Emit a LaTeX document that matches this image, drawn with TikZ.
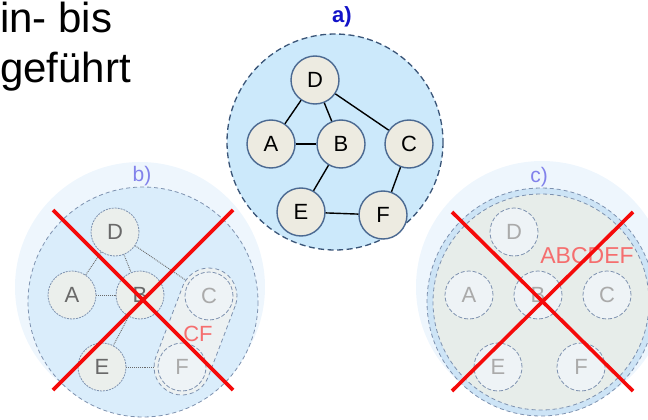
\documentclass[tikz,border=0pt]{standalone}
\usepackage{fontspec}
\setmainfont{Liberation Sans}
\usetikzlibrary{calc}
\pgfdeclarelayer{back}
\pgfdeclarelayer{mid}
\pgfsetlayers{back,mid,main}
\definecolor{aFill}{RGB}{204,233,251}
\definecolor{aBorder}{RGB}{58,85,120}
\definecolor{nFill}{RGB}{237,235,225}
\definecolor{nBorder}{RGB}{75,105,145}
\definecolor{aLabel}{RGB}{18,18,200}
\definecolor{fLabel}{RGB}{130,130,235}
\definecolor{haloFill}{RGB}{238,246,253}
\definecolor{bInner}{RGB}{218,237,251}
\definecolor{fBorder}{RGB}{125,145,175}
\definecolor{fNode}{RGB}{235,239,236}
\definecolor{fNodeLight}{RGB}{238,243,246}
\definecolor{fText}{RGB}{105,105,105}
\definecolor{fTextLight}{RGB}{170,170,170}
\definecolor{fEdge}{RGB}{105,105,105}
\definecolor{pillFill}{RGB}{236,241,242}
\definecolor{cInner}{RGB}{231,237,234}
\definecolor{cRing}{RGB}{205,228,246}
\definecolor{xRed}{RGB}{245,10,10}
\definecolor{fRed}{RGB}{245,110,110}
\begin{document}
\begin{tikzpicture}[x=1pt,y=-1pt,
  anode/.style={circle, draw=nBorder, line width=1.4pt, fill=nFill, minimum size=48pt, inner sep=0pt, font=\fontsize{22}{22}\selectfont},
  aedge/.style={line width=1.4pt, black},
  fnode/.style={circle, draw=fBorder, dash pattern=on 2pt off 1pt, line width=0.8pt, fill=fNode, minimum size=48pt, inner sep=0pt, font=\fontsize{22}{22}\selectfont, text=fText},
  fnodeL/.style={fnode, fill=fNodeLight, text=fTextLight, dash pattern=on 4pt off 2pt},
  fedge/.style={line width=0.9pt, fEdge, densely dotted},
  fdash/.style={draw=fBorder, line width=0.8pt, dash pattern=on 4pt off 3pt},
  redx/.style={xRed, line width=3.6pt},
  flabel/.style={text=fLabel, font=\fontsize{21}{21}\selectfont, inner sep=0pt},
  heading/.style={anchor=base west, inner sep=0pt, font=\fontsize{42}{48}\selectfont}
]
\useasboundingbox (0,0) rectangle (648,420);

% heading
\node[heading] (t1) at (0,33) {in- bis};
\node[heading] (t2) at (0,82) {geführt};

% ---------- b) ----------
\begin{pgfonlayer}{back}
\fill[haloFill] (140,287) circle[radius=125];
\filldraw[fill=bInner, fdash] (143,302) circle[radius=115];
\end{pgfonlayer}
\node[flabel] (bl) at (142,176) {b)};
\node[fnode] (bD) at (115,232) {D};
\node[fnode] (bA) at (72,295) {A};
\node[fnode] (bB) at (140,295) {B};
\node[fnode] (bE) at (102,367) {E};
\node[fnodeL] (bC) at (209,296) {C};
\node[fnodeL] (bF) at (182,367) {F};
\begin{pgfonlayer}{back}
\draw[fedge] (bD) -- (bA);
\draw[fedge] (bD) -- (bB);
\draw[fedge] (bD) -- (bC);
\draw[fedge] (bA) -- (bB);
\draw[fedge] (bB) -- (bE);
\draw[fedge] (bE) -- (bF);
\end{pgfonlayer}
\begin{pgfonlayer}{mid}
\begin{scope}[shift={($(bC)!0.5!(bF)$)}, rotate=-110.8]
\filldraw[fill=pillFill, fdash] (-38,-28) -- (38,-28) arc[start angle=-90, end angle=90, radius=28] -- (-38,28) arc[start angle=90, end angle=270, radius=28] -- cycle;
\end{scope}
\end{pgfonlayer}
\node[text=fRed, font=\fontsize{22}{22}\selectfont, inner sep=0pt] (bCF) at (198,334) {CF};
\coordinate (bx1) at (53,210);
\coordinate (bx2) at (233,390);
\coordinate (bx3) at (233,210);
\coordinate (bx4) at (53,390);
\draw[redx] (bx1) -- (bx2);
\draw[redx] (bx3) -- (bx4);

% ---------- c) ----------
\begin{pgfonlayer}{back}
\fill[haloFill] (542,287) circle[radius=126];
\filldraw[fill=cRing, fdash] (541,302) circle[radius=114];
\filldraw[fill=cInner, fdash] (541,302) circle[radius=108];
\end{pgfonlayer}
\node[flabel] (cl) at (539,177) {c)};
\node[fnodeL] (cD) at (514,232) {D};
\node[fnodeL] (cA) at (469,295) {A};
\node[fnodeL] (cB) at (538,295) {B};
\node[fnodeL] (cC) at (607,295) {C};
\node[fnodeL] (cE) at (498,367) {E};
\node[fnodeL] (cF) at (581,367) {F};
\node[text=fRed, font=\fontsize{23}{23}\selectfont, inner sep=0pt] (cABC) at (587,256) {ABCDEF};
\coordinate (cx1) at (452,212);
\coordinate (cx2) at (633,391);
\coordinate (cx3) at (633,212);
\coordinate (cx4) at (452,391);
\draw[redx] (cx1) -- (cx2);
\draw[redx] (cx3) -- (cx4);

% ---------- a) ----------
\filldraw[fill=aFill, draw=aBorder, line width=1.3pt, dash pattern=on 6pt off 3.5pt] (335,142) circle[radius=108];
\node[text=aLabel, font=\fontsize{22}{22}\selectfont\bfseries, inner sep=0pt] (al) at (342,17) {a)};
\node[anode] (aD) at (315,80) {D};
\node[anode] (aA) at (271,144) {A};
\node[anode] (aB) at (341,144) {B};
\node[anode] (aC) at (409,144) {C};
\node[anode] (aE) at (301,212) {E};
\node[anode] (aF) at (383,215) {F};
\draw[aedge] (aD) -- (aA);
\draw[aedge] (aD) -- (aB);
\draw[aedge] (aD) -- (aC);
\draw[aedge] (aA) -- (aB);
\draw[aedge] (aB) -- (aE);
\draw[aedge] (aE) -- (aF);
\draw[aedge] (aC) -- (aF);
\end{tikzpicture}
\end{document}
